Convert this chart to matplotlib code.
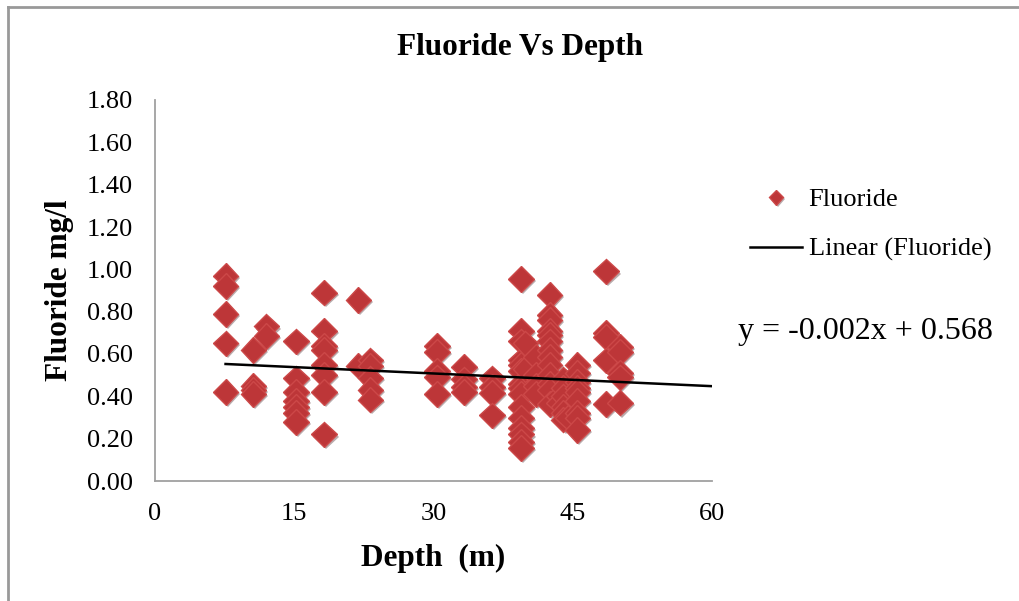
import matplotlib

matplotlib.use("Agg")

import matplotlib.pyplot as plt
import matplotlib.patheffects as pe
from matplotlib.lines import Line2D

plt.rcParams["font.family"] = ["Liberation Serif", "DejaVu Serif"]

# depth (m) and fluoride (mg/l)
depth = (
    [7.6] * 5
    + [10.6] * 4
    + [12.0] * 2
    + [15.2] * 7
    + [18.2] * 8
    + [21.9] * 2
    + [23.2] * 5
    + [30.4] * 5
    + [33.3] * 4
    + [36.3] * 4
    + [39.4] * 15
    + [39.9] * 2
    + [41.0] * 4
    + [42.5] * 13
    + [43.5] * 2
    + [44.0] * 6
    + [44.5] * 1
    + [45.5] * 9
    + [48.6] * 5
    + [50.1] * 5
)
fluoride = (
    [0.97, 0.92, 0.79, 0.65, 0.42]
    + [0.62, 0.45, 0.43, 0.41]
    + [0.73, 0.685]
    + [0.66, 0.485, 0.42, 0.38, 0.35, 0.32, 0.28]
    + [0.89, 0.71, 0.64, 0.62, 0.55, 0.50, 0.42, 0.22]
    + [0.855, 0.545]
    + [0.57, 0.545, 0.485, 0.43, 0.385]
    + [0.64, 0.61, 0.52, 0.49, 0.41]
    + [0.54, 0.48, 0.445, 0.42]
    + [0.485, 0.445, 0.415, 0.31]
    + [0.955, 0.71, 0.66, 0.57, 0.55, 0.52, 0.46, 0.44, 0.41, 0.35,
       0.30, 0.25, 0.22, 0.185, 0.155]
    + [0.65, 0.53]
    + [0.585, 0.50, 0.45, 0.41]
    + [0.88, 0.785, 0.76, 0.71, 0.69, 0.66, 0.62, 0.585, 0.55, 0.50,
       0.46, 0.43, 0.365]
    + [0.40, 0.37]
    + [0.48, 0.44, 0.40, 0.35, 0.32, 0.29]
    + [0.30]
    + [0.55, 0.51, 0.47, 0.44, 0.42, 0.38, 0.32, 0.30, 0.24]
    + [0.99, 0.70, 0.68, 0.57, 0.365]
    + [0.635, 0.61, 0.51, 0.49, 0.37]
)

slope = -0.002
intercept = 0.568
trend_x = [min(depth), 60]
trend_y = [slope * v + intercept for v in trend_x]

x_ticks = [0, 15, 30, 45, 60]
y_ticks = [0.0, 0.2, 0.4, 0.6, 0.8, 1.0, 1.2, 1.4, 1.6, 1.8]

W, H = 1019, 601
fig = plt.figure(figsize=(W / 100, H / 100), dpi=100)
ax = fig.add_axes([155 / W, 120 / H, 557 / W, 381 / H])

red = "#BD3638"
shadow = [pe.SimplePatchShadow(offset=(1.5, -1.5), alpha=0.35), pe.Normal()]

ax.plot(depth, fluoride, linestyle="none", marker="D", markersize=13,
        markerfacecolor=red, markeredgecolor="#CC4848", markeredgewidth=1,
        path_effects=shadow, zorder=2)
ax.plot(trend_x, trend_y, color="black", linewidth=1.8, zorder=3)

ax.set_xlim(0, 60)
ax.set_ylim(0, 1.8)
ax.set_xticks(x_ticks)
ax.set_yticks(y_ticks)
ax.set_yticklabels([f"{v:.2f}" for v in y_ticks])
ax.tick_params(axis="both", length=0, labelsize=19)
ax.tick_params(axis="y", pad=16)
ax.tick_params(axis="x", pad=15.5)

for side in ["top", "right"]:
    ax.spines[side].set_visible(False)
for side in ["left", "bottom"]:
    ax.spines[side].set_color("#A0A0A0")
    ax.spines[side].set_linewidth(1.3)

fig.text(520 / W, 1 - 47 / H, "Fluoride Vs Depth", ha="center", va="center",
         fontsize=22.5, fontweight="bold")
fig.text(433 / W, 1 - 558 / H, "Depth  (m)", ha="center", va="center",
         fontsize=22.5, fontweight="bold")
fig.text(60 / W, 1 - 290 / H, "Fluoride mg/l", ha="center", va="center",
         rotation=90, fontsize=22.5, fontweight="bold")
fig.text(738 / W, 1 - 332 / H, "y = -0.002x + 0.568", ha="left", va="center",
         fontsize=23)

handles = [
    Line2D([], [], linestyle="none", marker="D", markersize=7.5,
           markerfacecolor=red, markeredgecolor="#CC4848",
           path_effects=shadow),
    Line2D([], [], color="black", linewidth=1.8),
]
fig.legend(handles, ["Fluoride", "Linear (Fluoride)"], loc="upper left",
           bbox_to_anchor=(750 / W, 1 - 188 / H), frameon=False,
           fontsize=19, borderpad=0, borderaxespad=0, handlelength=1.97,
           handletextpad=0.25, labelspacing=0.98)

# outer chart frame (only left and top edges are visible)
fig.add_artist(Line2D([8 / W, 8 / W], [0, 1 - 7 / H], color="#999999",
                      linewidth=2))
fig.add_artist(Line2D([8 / W, 1], [1 - 7 / H, 1 - 7 / H], color="#999999",
                      linewidth=2))

fig.savefig("out.png", dpi=100)
plt.close(fig)
